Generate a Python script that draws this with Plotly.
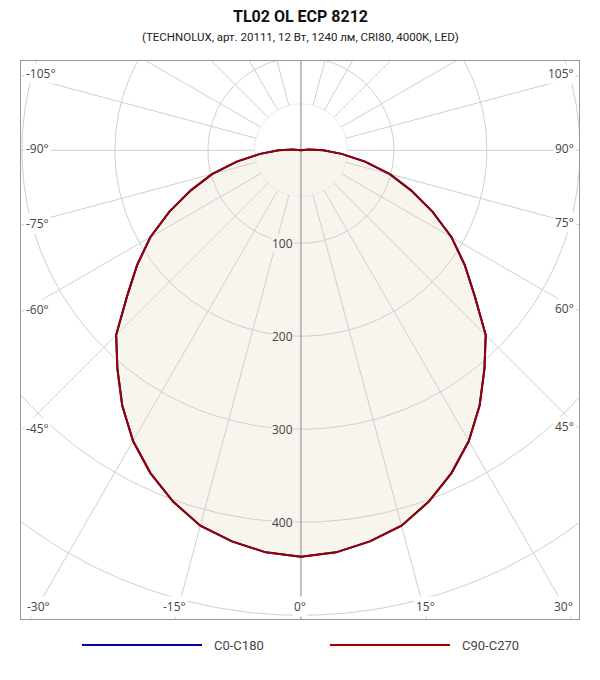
import numpy as np
import plotly.graph_objects as go

# ---- DATA -------
title = "TL02 OL ECP 8212"
subtitle = "(TECHNOLUX, арт. 20111, 12 Вт, 1240 лм, CRI80, 4000K, LED)"

# gamma angles (deg from nadir)
gamma = [0, 5, 10, 15, 20, 25, 30, 35, 40, 45, 50, 55, 60, 65, 70, 75, 80, 85, 90, 95, 100]
# intensity (cd/klm) per half-plane
c0 = [437, 434, 427, 418, 402, 383, 361, 335, 307, 281, 244, 215, 187, 156, 126, 99, 70, 44, 24, 9, 0]
c180 = [437, 434, 427, 418, 402, 383, 361, 335, 307, 281, 244, 215, 187, 156, 126, 99, 70, 44, 24, 9, 0]
c90 = [437, 434, 427, 418, 402, 383, 361, 335, 307, 281, 244, 215, 187, 156, 126, 99, 70, 44, 24, 9, 0]
c270 = [437, 434, 427, 418, 402, 383, 361, 335, 307, 281, 244, 215, 187, 156, 126, 99, 70, 44, 24, 9, 0]

ring_values = [100, 200, 300, 400, 500]
ring_labels = ["100", "200", "300", "400"]
angle_ticks = [-105, -90, -75, -60, -45, -30, -15, 0, 15, 30, 45, 60, 75, 90, 105]

series_names = ["C0-C180", "C90-C270"]
series_colors = ["#000099", "#990000"]
# --------------------------

x_range = [-301, 299]
y_range = [-504, 96]
fill_color = "#F8F5EF"
grid_color = "#CFCFCF"
label_font = dict(family="Open Sans", size=12, color="#444")


def to_xy(left_vals, right_vals):
    # left half-plane goes to negative angles, right to positive; close through the centre
    ang = [-g for g in gamma[::-1]] + gamma
    r = list(left_vals[::-1]) + list(right_vals)
    a = np.radians(ang)
    x = np.array(r) * np.sin(a)
    y = -np.array(r) * np.cos(a)
    x = np.concatenate([[0], x, [0]])
    y = np.concatenate([[0], y, [0]])
    return x, y


fig = go.Figure()

# filled area under the C90-C270 curve
fx, fy = to_xy(c270, c90)
fig.add_trace(go.Scatter(x=fx, y=fy, mode="lines", fill="toself", fillcolor=fill_color,
                         line=dict(width=0), hoverinfo="skip"))

# polar grid: rings
t = np.linspace(0, 2 * np.pi, 361)
fig.add_trace(go.Scatter(x=50 * np.cos(t), y=50 * np.sin(t), mode="lines",
                         line=dict(color="#EBEBEB", width=1), hoverinfo="skip"))
for rv in ring_values:
    fig.add_trace(go.Scatter(x=rv * np.cos(t), y=rv * np.sin(t), mode="lines",
                             line=dict(color=grid_color, width=1), hoverinfo="skip"))

# polar grid: rays every 15 deg starting at the inner ring
rx, ry = [], []
for a in range(15, 360, 15):
    if a == 180:
        continue
    ar = np.radians(a)
    rx += [50 * np.sin(ar), 800 * np.sin(ar), None]
    ry += [-50 * np.cos(ar), -800 * np.cos(ar), None]
fig.add_trace(go.Scatter(x=rx, y=ry, mode="lines", line=dict(color=grid_color, width=1),
                         hoverinfo="skip"))

# vertical axis through the centre
fig.add_trace(go.Scatter(x=[0, 0], y=[y_range[0] - 10, y_range[1] + 10], mode="lines",
                         line=dict(color="#999999", width=1.2), hoverinfo="skip"))

# curves
bx, by = to_xy(c180, c0)
fig.add_trace(go.Scatter(x=bx, y=by, mode="lines", name=series_names[0],
                         line=dict(color=series_colors[0], width=2)))
fig.add_trace(go.Scatter(x=fx, y=fy, mode="lines", name=series_names[1],
                         line=dict(color=series_colors[1], width=2)))

annotations = []
# ring labels
for lab in ring_labels:
    annotations.append(dict(x=0, y=-float(lab), text=lab, showarrow=False, xanchor="right",
                            yanchor="middle", xshift=-7, font=label_font,
                            bgcolor=fill_color, borderpad=0))

# angle labels where the rays leave the plot box
for a in angle_ticks:
    ar = np.radians(a)
    dx, dy = np.sin(ar), -np.cos(ar)
    hits = []
    if dx < -1e-9:
        hits.append((x_range[0] / dx, "left"))
    if dx > 1e-9:
        hits.append((x_range[1] / dx, "right"))
    if dy < -1e-9:
        hits.append((y_range[0] / dy, "bottom"))
    tt, side = min(hits)
    txt = f"{a}°"
    if side in ("left", "right"):
        annotations.append(dict(x=x_range[0] if side == "left" else x_range[1], y=tt * dy,
                                text=txt, showarrow=False, xanchor=side, yanchor="middle",
                                xshift=3 if side == "left" else -3, yshift=2,
                                font=label_font, bgcolor="white", borderpad=1))
    else:
        xp = tt * dx
        xa = "center"
        if xp < x_range[0] + 20:
            xp, xa = x_range[0], "left"
        elif xp > x_range[1] - 20:
            xp, xa = x_range[1], "right"
        annotations.append(dict(x=xp, y=y_range[0], text=txt, showarrow=False, xanchor=xa,
                                yanchor="bottom", yshift=2,
                                xshift=4 if xa == "left" else (-4 if xa == "right" else -1),
                                font=label_font, bgcolor="white", borderpad=1))

# title
annotations.append(dict(xref="paper", yref="paper", x=0.5, y=1, yshift=45, text=f"<b>{title}</b>",
                        showarrow=False, xanchor="center", yanchor="middle",
                        font=dict(family="Roboto", size=16, color="#111")))
annotations.append(dict(xref="paper", yref="paper", x=0.5, y=1, yshift=24, text=subtitle,
                        showarrow=False, xanchor="center", yanchor="middle",
                        font=dict(family="Roboto", size=11.5, color="#222")))

# legend drawn by hand (long line samples)
shapes = []
plot_w = 558.0
legend_items = [(82, 202, 212), (330, 450, 460)]
for (x0, x1, xt), name, col in zip(legend_items, series_names, series_colors):
    shapes.append(dict(type="line", xref="paper", yref="paper",
                       x0=(x0 - 21) / plot_w, x1=(x1 - 21) / plot_w,
                       y0=(619 - 645) / plot_w, y1=(619 - 645) / plot_w,
                       line=dict(color=col, width=2)))
    annotations.append(dict(xref="paper", yref="paper", x=(xt - 21) / plot_w, y=(619 - 645) / plot_w,
                            text=name, showarrow=False, xanchor="left", yanchor="middle",
                            font=dict(family="Roboto", size=13, color="#444")))

# the page body adds an 8px offset, so the figure is a little smaller than the window
fig.update_layout(
    width=592, height=672,
    margin=dict(l=13, r=21, t=53, b=61),
    plot_bgcolor="white", paper_bgcolor="white",
    showlegend=False,
    xaxis=dict(range=x_range, showgrid=False, zeroline=False, showticklabels=False,
               showline=True, mirror=True, linecolor="#999999", linewidth=1, fixedrange=True),
    yaxis=dict(range=y_range, showgrid=False, zeroline=False, showticklabels=False,
               showline=True, mirror=True, linecolor="#999999", linewidth=1, fixedrange=True),
    annotations=annotations,
    shapes=shapes,
)

fig.write_html("out.html")
